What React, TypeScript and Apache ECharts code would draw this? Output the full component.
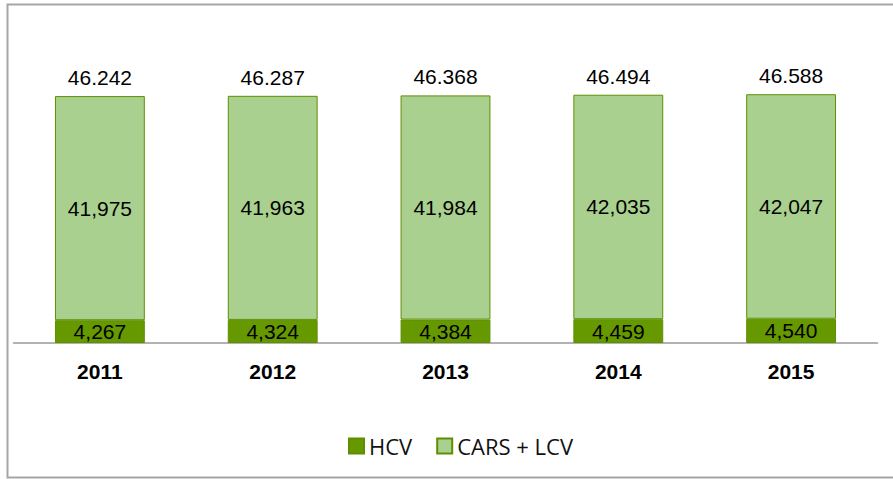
import React, { useEffect, useRef } from "react";
import * as echarts from "echarts";

const years = ["2011", "2012", "2013", "2014", "2015"];
const hcv = [4267, 4324, 4384, 4459, 4540];
const carsLcv = [41975, 41963, 41984, 42035, 42047];
const totalLabels = ["46.242", "46.287", "46.368", "46.494", "46.588"];

const fmt = (v: number) => v.toLocaleString("en-US");

export default function App() {
  const ref = useRef<HTMLDivElement>(null);
  useEffect(() => {
    document.body.style.margin = "0";
    const chart = echarts.init(ref.current!, null, { renderer: "svg" });
    chart.setOption({
      animation: false,
      backgroundColor: "#ffffff",
      textStyle: { fontFamily: "Liberation Sans, Arial, sans-serif" },
      graphic: [
        {
          type: "rect",
          shape: { x: 7.5, y: 4.5, width: 900, height: 473 },
          style: { fill: "none", stroke: "#a6a6a6", lineWidth: 2 },
          silent: true,
          z: 0,
        },
      ],
      grid: { left: 13.5, right: 15.5, top: 76, bottom: 136 },
      legend: {
        data: [
          { name: "HCV", icon: "rect" },
          { name: "CARS + LCV", icon: "rect" },
        ],
        bottom: 17,
        left: 343,
        itemWidth: 15,
        itemHeight: 15,
        itemGap: 24,
        textStyle: {
          fontFamily: "Open Sans, sans-serif",
          fontSize: 22,
          color: "#111",
        },
      },
      xAxis: {
        type: "category",
        data: years,
        axisLine: { lineStyle: { color: "#999999", width: 1.5 } },
        axisTick: { show: false },
        axisLabel: {
          fontWeight: "bold",
          fontSize: 21,
          color: "#000",
          margin: 18,
          fontFamily: "Liberation Sans, Arial, sans-serif",
        },
      },
      yAxis: {
        type: "value",
        min: 0,
        max: 50000,
        show: false,
        splitLine: { show: false },
      },
      series: [
        {
          name: "HCV",
          type: "bar",
          stack: "total",
          data: hcv,
          barWidth: "52%",
          itemStyle: { color: "#669900", borderColor: "#5f8f00", borderWidth: 1 },
          label: {
            show: true,
            position: "inside",
            formatter: (p: any) => fmt(p.value),
            fontSize: 21,
            color: "#000",
            fontFamily: "Liberation Sans, Arial, sans-serif",
          },
        },
        {
          name: "CARS + LCV",
          type: "bar",
          stack: "total",
          data: carsLcv,
          itemStyle: { color: "#a9d08e", borderColor: "#5f8f00", borderWidth: 1 },
          label: {
            show: true,
            position: "inside",
            formatter: (p: any) => fmt(p.value),
            fontSize: 21,
            color: "#000",
            fontFamily: "Liberation Sans, Arial, sans-serif",
          },
        },
        {
          name: "Total",
          type: "bar",
          stack: "total",
          data: years.map(() => 0),
          itemStyle: { color: "transparent" },
          label: {
            show: true,
            position: "top",
            distance: 8,
            formatter: (p: any) => totalLabels[p.dataIndex],
            fontSize: 21,
            color: "#000",
            fontFamily: "Liberation Sans, Arial, sans-serif",
          },
        },
      ],
    });
    return () => chart.dispose();
  }, []);
  return <div ref={ref} style={{ width: 893, height: 479 }} />;
}
